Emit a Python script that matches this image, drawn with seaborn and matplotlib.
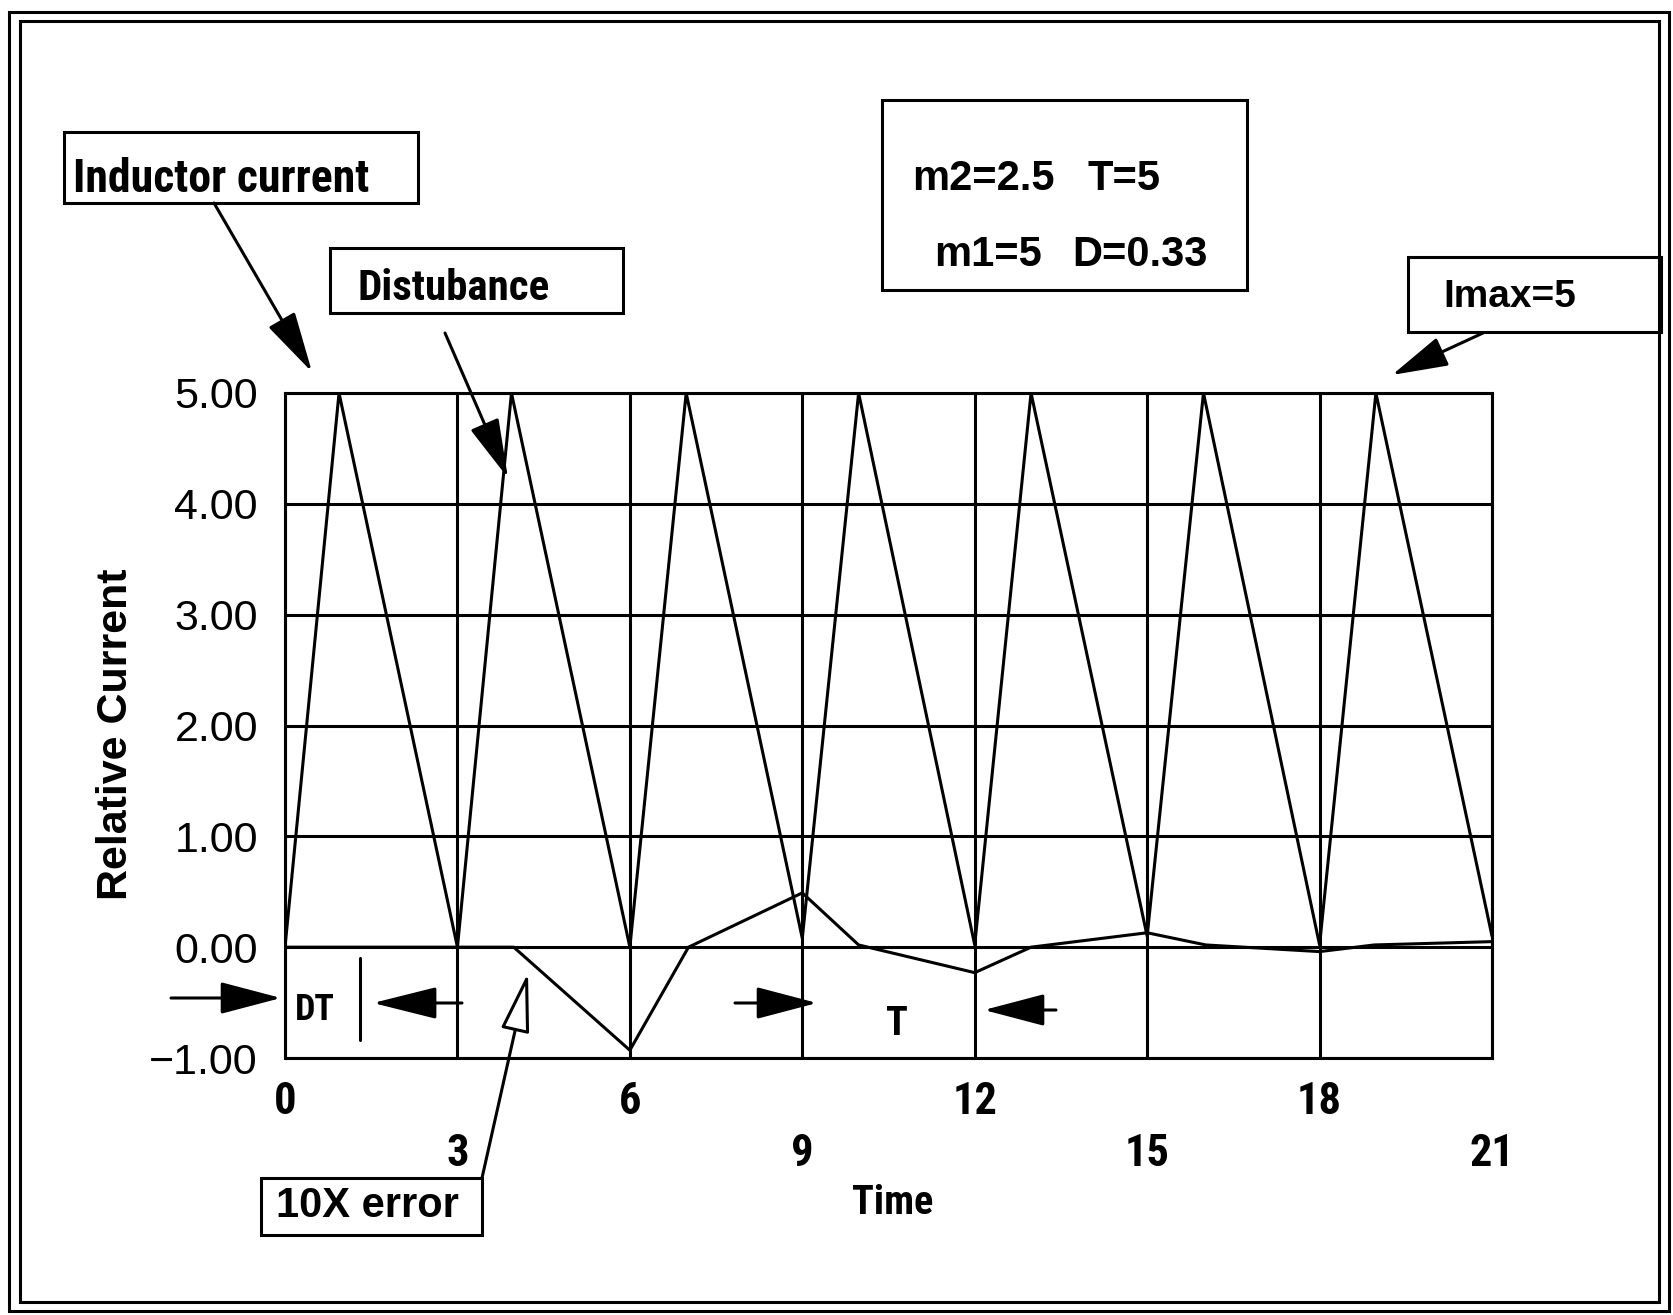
import matplotlib
matplotlib.use("Agg")
import matplotlib.pyplot as plt
from matplotlib import font_manager
from matplotlib.patches import Rectangle, FancyArrowPatch
import pandas as pd
import seaborn as sns

# Inductor current: sawtooth vertices (time, relative current)
current_time = [0, 0.94, 3, 3.94, 6, 6.98, 9, 9.98, 12, 12.98, 15, 15.98, 18, 18.98, 21]
current_value = [0, 5, 0, 5, 0, 5, 0.08, 5, 0.02, 5, 0.1, 5, 0.02, 5, 0.1]

# Current error, magnified ten times
error_time = [0, 3.98, 6, 7.02, 9, 9.98, 12, 12.98, 15, 16.02, 18, 18.95, 21]
error_value = [0, 0, -0.93, 0.0, 0.49, 0.02, -0.23, 0.0, 0.13, 0.02, -0.04, 0.02, 0.05]

# Axis ticks
y_ticks = [-1, 0, 1, 2, 3, 4, 5]
y_tick_labels = ["\u22121.00", "0.00", "1.00", "2.00", "3.00", "4.00", "5.00"]
x_ticks_upper = [0, 6, 12, 18]
x_ticks_lower = [3, 9, 15, 21]

W, H = 1673, 1315
LW = 2.2

sns.set_theme(style="white")
available = {f.name for f in font_manager.fontManager.ttflist}
NARROW = next((n for n in ["Liberation Sans Narrow", "Roboto Condensed",
                           "DejaVu Sans Condensed"] if n in available),
              "Liberation Sans")
WIDE = "Liberation Sans" if "Liberation Sans" in available else "DejaVu Sans"
plt.rcParams["font.family"] = [WIDE, "DejaVu Sans"]
plt.rcParams["text.color"] = "black"
plt.rcParams["axes.labelcolor"] = "black"
plt.rcParams["xtick.color"] = "black"
plt.rcParams["ytick.color"] = "black"


def fx(x):
    return x / W


def fy(y):
    return 1 - y / H


fig = plt.figure(figsize=(W / 100, H / 100), dpi=100)
fig.patch.set_facecolor("white")
ax = fig.add_axes([fx(285), fy(1058), fx(1492) - fx(285), fy(393) - fy(1058)])
ax.set_facecolor("white")

df_current = pd.DataFrame({"Time": current_time, "Current": current_value})
df_error = pd.DataFrame({"Time": error_time, "Current": error_value})
sns.lineplot(data=df_current, x="Time", y="Current", sort=False, estimator=None,
             color="black", lw=LW, ax=ax)
sns.lineplot(data=df_error, x="Time", y="Current", sort=False, estimator=None,
             color="black", lw=LW, ax=ax)

ax.set_xlim(0, 21)
ax.set_ylim(-1, 5)
ax.set_yticks(y_ticks)
ax.set_yticklabels(y_tick_labels)
ax.set_xticks(x_ticks_upper)
ax.set_xticklabels([str(t) for t in x_ticks_upper])
ax.set_xticks(x_ticks_lower, minor=True)
ax.set_xticklabels([str(t) for t in x_ticks_lower], minor=True)
for t in ax.get_xticklabels(which="both"):
    t.set_family([NARROW, "DejaVu Sans"])
    t.set_fontweight("bold")

ax.grid(True, axis="x", which="both", color="black", lw=LW)
ax.grid(True, axis="y", which="major", color="black", lw=LW)
for s in ax.spines.values():
    s.set_visible(True)
    s.set_color("black")
    s.set_linewidth(LW)

ax.tick_params(axis="y", direction="out", length=10.5, width=LW, labelsize=31, pad=9)
ax.tick_params(axis="x", which="major", direction="out", length=10.8, width=LW,
               labelsize=32, pad=6)
ax.tick_params(axis="x", which="minor", direction="out", length=10.8, width=LW,
               labelsize=32, pad=43)

ax.set_xlabel("Time", fontsize=29, family=[NARROW, "DejaVu Sans"], fontweight="bold")
ax.xaxis.set_label_coords(0.5035, -0.1895)
ax.set_ylabel("Relative Current", fontsize=31, fontweight="bold")
ax.yaxis.set_label_coords(-0.1235, 0.487)


def box(x0, y0, x1, y1):
    fig.add_artist(Rectangle((fx(x0), fy(y1)), fx(x1) - fx(x0), fy(y0) - fy(y1),
                             transform=fig.transFigure, fill=False,
                             edgecolor="black", lw=LW))


def label(x, y, s, size, narrow=False):
    fam = [NARROW if narrow else WIDE, "DejaVu Sans"]
    fig.text(fx(x), fy(y), s, fontsize=size, ha="left", va="baseline",
             color="black", family=fam, fontweight="bold")


def arrow(x0, y0, x1, y1, hl, hw, hollow=False):
    fig.add_artist(FancyArrowPatch(
        (fx(x0), fy(y0)), (fx(x1), fy(y1)), transform=fig.transFigure,
        arrowstyle=f"-|>,head_length={hl},head_width={hw}", mutation_scale=1,
        lw=LW, edgecolor="black", facecolor="white" if hollow else "black",
        shrinkA=0, shrinkB=0))


# Double border round the page
box(9, 12, 1669, 1311)
box(20, 21, 1659, 1302)

# Callouts
box(64, 132, 418, 203)
label(73, 192, "Inductor current", 33, narrow=True)
arrow(214, 203, 312, 372, 38, 9.5)

box(330, 248, 623, 313)
label(358, 300, "Distubance", 31, narrow=True)
arrow(445, 333, 508, 478, 37, 9.5)

box(882, 100, 1247, 290)
label(912, 190, "m2=2.5", 30)
label(1088, 190, "T=5", 30)
label(934, 266, "m1=5", 30)
label(1072, 266, "D=0.33", 30)

box(1408, 257, 1661, 332)
label(1443, 307, "Imax=5", 28)
arrow(1483, 333, 1392, 375, 35, 9.5)

box(261, 1178, 482, 1235)
label(276, 1217, "10X error", 30)
arrow(482, 1178, 528, 973, 37, 9, hollow=True)

# DT and T spans
label(295, 1020, "DT", 26, narrow=True)
fig.add_artist(plt.Line2D([fx(360), fx(360)], [fy(958), fy(1040)],
                          transform=fig.transFigure, color="black", lw=LW))
arrow(171, 998, 281, 998, 38, 10)
arrow(462, 1003, 373, 1003, 40, 10)

label(886, 1035, "T", 29, narrow=True)
arrow(735, 1003, 817, 1003, 38, 10)
arrow(1056, 1010, 984, 1010, 38, 10)

fig.savefig("out.png", dpi=100, facecolor="white")
